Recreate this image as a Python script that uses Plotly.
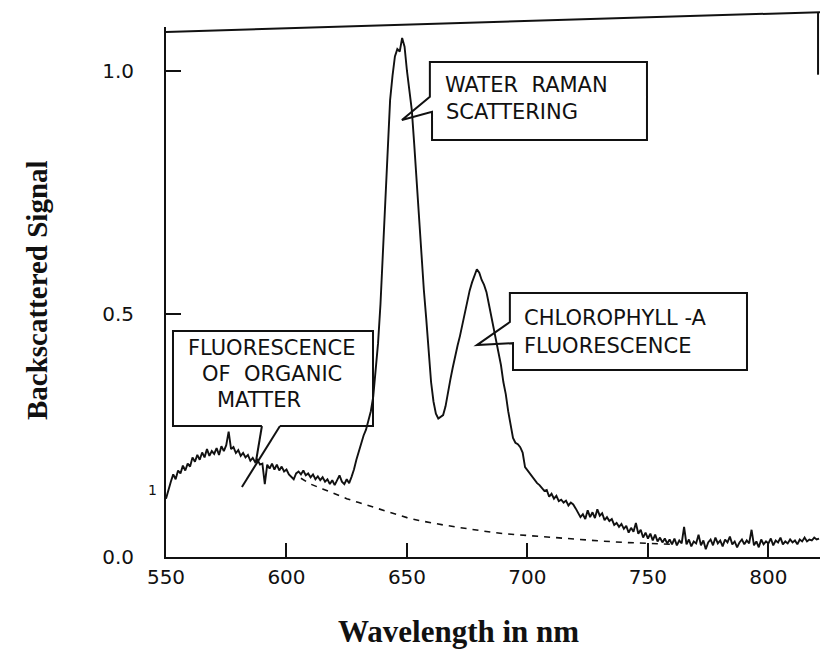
import plotly.graph_objects as go

# ---------------- data ----------------
wavelength_nm = [
    550, 551, 552, 553, 554, 555, 556, 557, 558, 559,
    560, 561, 562, 563, 564, 565, 566, 567, 568, 569,
    570, 571, 572, 573, 574, 575, 576, 577, 578, 579,
    580, 581, 582, 583, 584, 585, 586, 587, 588, 589,
    590, 591, 592, 593, 594, 595, 596, 597, 598, 599,
    600, 601, 602, 603, 604, 605, 606, 607, 608, 609,
    610, 611, 612, 613, 614, 615, 616, 617, 618, 619,
    620, 621, 622, 623, 624, 625, 626, 627, 628, 629,
    630, 631, 632, 633, 634, 635, 636, 637, 638, 639,
    640, 641, 642, 643, 644, 645, 646, 647, 648, 649,
    650, 651, 652, 653, 654, 655, 656, 657, 658, 659,
    660, 661, 662, 663, 664, 665, 666, 667, 668, 669,
    670, 671, 672, 673, 674, 675, 676, 677, 678, 679,
    680, 681, 682, 683, 684, 685, 686, 687, 688, 689,
    690, 691, 692, 693, 694, 695, 696, 697, 698, 699,
    700, 701, 702, 703, 704, 705, 706, 707, 708, 709,
    710, 711, 712, 713, 714, 715, 716, 717, 718, 719,
    720, 721, 722, 723, 724, 725, 726, 727, 728, 729,
    730, 731, 732, 733, 734, 735, 736, 737, 738, 739,
    740, 741, 742, 743, 744, 745, 746, 747, 748, 749,
    750, 751, 752, 753, 754, 755, 756, 757, 758, 759,
    760, 761, 762, 763, 764, 765, 766, 767, 768, 769,
    770, 771, 772, 773, 774, 775, 776, 777, 778, 779,
    780, 781, 782, 783, 784, 785, 786, 787, 788, 789,
    790, 791, 792, 793, 794, 795, 796, 797, 798, 799,
    800, 801, 802, 803, 804, 805, 806, 807, 808, 809,
    810, 811, 812, 813, 814, 815, 816, 817, 818, 819,
    820, 821,
]

backscattered_signal = [
    0.120, 0.140, 0.155, 0.170, 0.160, 0.178, 0.172, 0.188, 0.178, 0.192,
    0.186, 0.205, 0.196, 0.210, 0.200, 0.215, 0.205, 0.222, 0.208, 0.218,
    0.212, 0.224, 0.210, 0.228, 0.218, 0.230, 0.258, 0.222, 0.226, 0.214,
    0.220, 0.208, 0.214, 0.205, 0.210, 0.198, 0.204, 0.195, 0.200, 0.190,
    0.192, 0.150, 0.190, 0.182, 0.192, 0.180, 0.190, 0.178, 0.186, 0.176,
    0.180, 0.170, 0.165, 0.160, 0.172, 0.176, 0.170, 0.178, 0.168, 0.172,
    0.164, 0.170, 0.160, 0.166, 0.158, 0.164, 0.155, 0.160, 0.150, 0.158,
    0.148, 0.160, 0.168, 0.155, 0.150, 0.160, 0.152, 0.165, 0.180, 0.200,
    0.218, 0.232, 0.250, 0.262, 0.280, 0.300, 0.330, 0.380, 0.440, 0.520,
    0.620, 0.730, 0.850, 0.940, 0.990, 1.030, 1.045, 1.040, 1.068, 1.050,
    1.000, 0.960, 0.920, 0.850, 0.770, 0.690, 0.620, 0.550, 0.490, 0.420,
    0.360, 0.320, 0.295, 0.285, 0.288, 0.292, 0.310, 0.340, 0.365, 0.390,
    0.415, 0.435, 0.455, 0.480, 0.505, 0.525, 0.548, 0.565, 0.578, 0.592,
    0.585, 0.570, 0.560, 0.545, 0.520, 0.495, 0.470, 0.445, 0.420, 0.395,
    0.360, 0.335, 0.300, 0.275, 0.245, 0.235, 0.232, 0.226, 0.215, 0.185,
    0.178, 0.172, 0.165, 0.158, 0.152, 0.148, 0.142, 0.136, 0.138, 0.124,
    0.130, 0.120, 0.126, 0.115, 0.118, 0.112, 0.116, 0.106, 0.112, 0.108,
    0.100, 0.090, 0.082, 0.088, 0.078, 0.096, 0.082, 0.092, 0.080, 0.098,
    0.085, 0.090, 0.076, 0.082, 0.074, 0.078, 0.066, 0.070, 0.062, 0.068,
    0.058, 0.064, 0.050, 0.060, 0.052, 0.070, 0.048, 0.056, 0.040, 0.050,
    0.038, 0.048, 0.034, 0.046, 0.032, 0.040, 0.030, 0.038, 0.028, 0.036,
    0.026, 0.038, 0.024, 0.034, 0.028, 0.062, 0.026, 0.036, 0.022, 0.032,
    0.028, 0.046, 0.024, 0.034, 0.016, 0.030, 0.036, 0.024, 0.040, 0.028,
    0.034, 0.022, 0.036, 0.030, 0.042, 0.026, 0.032, 0.020, 0.030, 0.036,
    0.026, 0.034, 0.028, 0.056, 0.024, 0.032, 0.020, 0.036, 0.026, 0.032,
    0.028, 0.038, 0.024, 0.034, 0.030, 0.040, 0.026, 0.032, 0.028, 0.036,
    0.030, 0.034, 0.026, 0.036, 0.032, 0.040, 0.032, 0.036, 0.034, 0.040,
    0.036, 0.038,
]

# dashed organic-matter fluorescence baseline
baseline_nm = [606, 610, 615, 620, 625, 630, 635, 640, 645, 650, 655, 660,
               665, 670, 675, 680, 685, 690, 695, 700, 710, 720, 730, 740,
               750, 760]
baseline_signal = [0.162, 0.150, 0.140, 0.130, 0.120, 0.112, 0.104, 0.096,
                   0.088, 0.081, 0.075, 0.070, 0.066, 0.062, 0.058, 0.055,
                   0.051, 0.048, 0.046, 0.044, 0.040, 0.036, 0.033, 0.030,
                   0.028, 0.026]

x_tick_values = [550, 600, 650, 700, 750, 800]
x_tick_labels = ["550", "600", "650", "700", "750", "800"]
y_tick_values = [0.0, 0.5, 1.0]
y_tick_labels = ["0.0", "0.5", "1.0"]

x_title = "Wavelength in nm"
y_title = "Backscattered Signal"
raman_lines = ["WATER  RAMAN", "SCATTERING"]
chloro_lines = ["CHLOROPHYLL -A", "FLUORESCENCE"]
organic_lines = ["FLUORESCENCE", "OF  ORGANIC", "MATTER"]

# ---------------- layout / decoration ----------------
X_RANGE = [550, 821.4]
Y_RANGE = [0, 1.0905]
INK = "#111111"
BOX_FONT = "DejaVu Sans, Arial, sans-serif"
TITLE_FONT = "Liberation Serif, Times New Roman, serif"

fig = go.Figure()
fig.add_trace(go.Scatter(x=wavelength_nm, y=backscattered_signal, mode="lines",
                         line=dict(color=INK, width=1.9), showlegend=False,
                         hoverinfo="x+y"))
fig.add_trace(go.Scatter(x=baseline_nm, y=baseline_signal, mode="lines",
                         line=dict(color=INK, width=1.6, dash="6px,6px"),
                         showlegend=False, hoverinfo="x+y"))

shapes = []
box_line = dict(color=INK, width=2)
# callout: water Raman
shapes.append(dict(type="path", xref="x", yref="y", line=box_line,
                   path="M 659.5,0.947 L 659.5,1.0185 L 749.6,1.0185 L 749.6,0.858 "
                        "L 660.4,0.858 L 660.4,0.916 L 647.9,0.899 Z"))
# callout: chlorophyll-a
shapes.append(dict(type="path", xref="x", yref="y", line=box_line,
                   path="M 692.7,0.4835 L 692.7,0.543 L 791.1,0.543 L 791.1,0.385 "
                        "L 694.0,0.385 L 694.0,0.440 L 679.0,0.436 Z"))
# callout: organic matter
shapes.append(dict(type="path", xref="x", yref="y", line=box_line,
                   path="M 597.3,0.2695 L 635.9,0.2695 L 635.9,0.465 L 552.9,0.465 "
                        "L 552.9,0.2695 L 589.8,0.2695"))
shapes.append(dict(type="line", xref="x", yref="y", line=box_line,
                   x0=589.8, y0=0.2695, x1=587.3, y1=0.1955))
shapes.append(dict(type="line", xref="x", yref="y", line=box_line,
                   x0=597.3, y0=0.2695, x1=581.5, y1=0.144))
# skewed top frame line and short right frame piece (as in the scan)
shapes.append(dict(type="line", xref="paper", yref="paper", line=dict(color=INK, width=2),
                   x0=0, y0=0.9906, x1=1, y1=1.028))
shapes.append(dict(type="line", xref="paper", yref="paper", line=dict(color=INK, width=2),
                   x0=0.997, y0=1.028, x1=0.997, y1=0.91))

annotations = []
def box_text(txt, x, y, anchor, size):
    annotations.append(dict(text=txt, x=x, y=y, xref="x", yref="y", showarrow=False,
                            xanchor=anchor, yanchor="middle",
                            font=dict(family=BOX_FONT, size=size, color=INK)))

box_text(raman_lines[0], 664.9, 0.972, "left", 21)
box_text(raman_lines[1], 665.3, 0.916, "left", 21)
box_text(chloro_lines[0], 697.7, 0.492, "left", 21)
box_text(chloro_lines[1], 697.7, 0.434, "left", 21)
box_text(organic_lines[0], 593.6, 0.430, "center", 21)
box_text(organic_lines[1], 594.0, 0.3765, "center", 21)
box_text(organic_lines[2], 588.6, 0.323, "center", 21)

annotations.append(dict(text="1", x=-0.021, y=0.126, xref="paper", yref="paper",
                        showarrow=False, xanchor="center", yanchor="middle",
                        font=dict(family=BOX_FONT, size=14, color=INK)))
annotations.append(dict(text="<b>%s</b>" % x_title, x=0.4465, y=-0.141,
                        xref="paper", yref="paper", showarrow=False,
                        xanchor="center", yanchor="middle",
                        font=dict(family=TITLE_FONT, size=31, color=INK)))
annotations.append(dict(text="<b>%s</b>" % y_title, x=-0.197, y=0.504,
                        xref="paper", yref="paper", showarrow=False, textangle=-90,
                        xanchor="center", yanchor="middle",
                        font=dict(family=TITLE_FONT, size=29, color=INK)))

fig.update_layout(
    width=820, height=659,
    margin=dict(l=166, r=0, t=27, b=102),
    paper_bgcolor="white", plot_bgcolor="white",
    shapes=shapes, annotations=annotations,
    xaxis=dict(range=X_RANGE, tickvals=x_tick_values, ticktext=x_tick_labels,
               showgrid=False, zeroline=False, showline=True, linecolor=INK,
               linewidth=2, ticks="inside", ticklen=14, tickwidth=2, tickcolor=INK,
               ticklabelstandoff=1,
               tickfont=dict(family=BOX_FONT, size=20, color=INK)),
    yaxis=dict(range=Y_RANGE, tickvals=y_tick_values, ticktext=y_tick_labels,
               showgrid=False, zeroline=False, showline=True, linecolor=INK,
               linewidth=2, ticks="inside", ticklen=15, tickwidth=2, tickcolor=INK,
               ticklabelstandoff=26,
               tickfont=dict(family=BOX_FONT, size=20, color=INK)),
)

fig.write_html("out.html")
